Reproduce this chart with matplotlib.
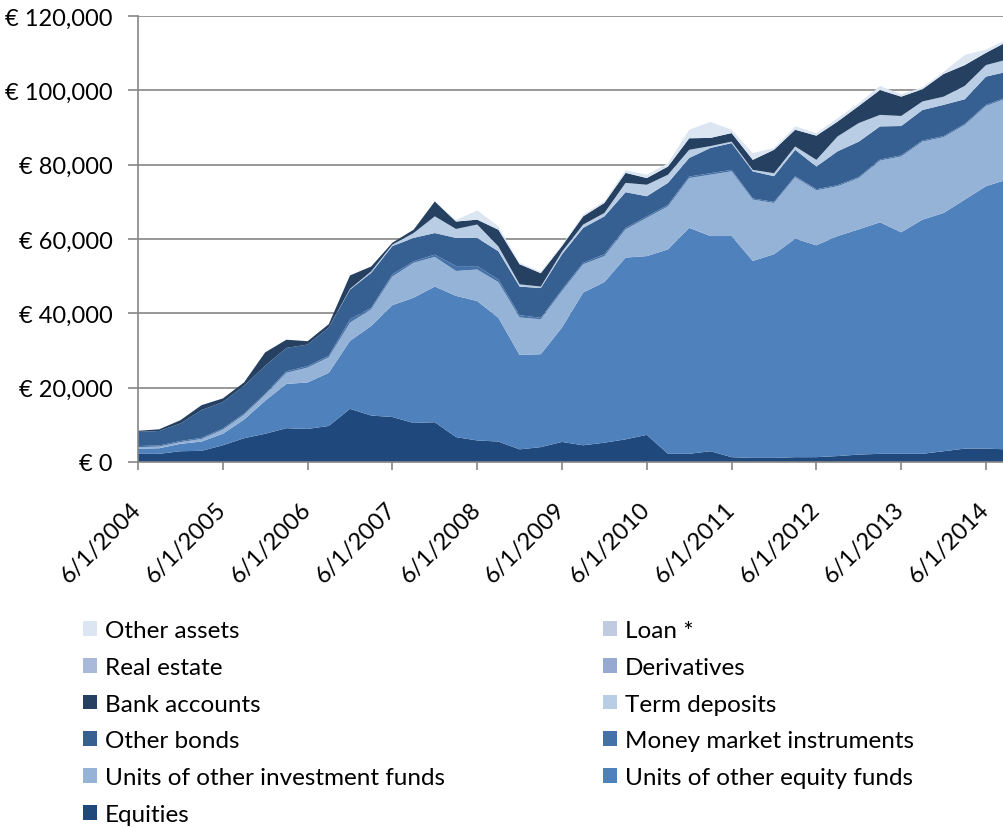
import matplotlib.pyplot as plt
from matplotlib.patches import Patch
from matplotlib.ticker import FuncFormatter

# quarterly values (EUR), first point is 6/1/2004
equities = [2200, 2200, 2900, 3000, 4500, 6400, 7600, 9100, 8900, 9700,
            14300, 12500, 12100, 10500, 10700, 6700, 5800, 5500, 3400, 4000,
            5400, 4500, 5200, 6100, 7300, 2200, 2200, 2900, 1300, 1100,
            1100, 1300, 1300, 1600, 2000, 2200, 2200, 2200, 2900, 3600,
            3600, 3400]
equity_funds = [1400, 1500, 2000, 2500, 3100, 5000, 8900, 11900, 12500, 14300,
                18300, 24100, 30100, 33700, 36500, 38000, 37500, 33300, 25400, 25000,
                30800, 41100, 43200, 48900, 48100, 55000, 60800, 57900, 59500, 53000,
                54800, 58800, 57000, 59200, 60600, 62300, 59600, 63000, 64100, 67000,
                70600, 72600]
invest_funds = [400, 450, 450, 700, 1100, 1300, 1600, 3000, 4000, 4200,
                4900, 4500, 7700, 9400, 8000, 6700, 8500, 9600, 10100, 9400,
                9800, 7600, 7000, 7600, 10300, 11600, 13400, 16500, 17400, 16500,
                13800, 16500, 14800, 13400, 13800, 16600, 20400, 21000, 20400, 20100,
                21600, 21900]
money_market = [300, 300, 300, 300, 300, 300, 300, 400, 400, 400,
                900, 400, 600, 400, 600, 1300, 900, 700, 600, 400,
                400, 400, 500, 400, 400, 400, 400, 400, 400, 300,
                300, 300, 300, 300, 300, 300, 300, 300, 300, 300,
                300, 300]
other_bonds = [3800, 3900, 4700, 7500, 7100, 7500, 7500, 6300, 5800, 7600,
               8000, 9400, 7600, 6300, 5800, 7600, 7600, 7600, 7700, 8000,
               9500, 9400, 10200, 9600, 5400, 5900, 5000, 6800, 7200, 7300,
               6900, 7100, 6100, 9100, 9500, 8900, 7900, 8200, 8400, 6600,
               7600, 6800]
term_deposits = [0, 0, 0, 0, 0, 0, 0, 0, 0, 0,
                 200, 400, 400, 1300, 4500, 2400, 3600, 1300, 600, 400,
                 700, 900, 900, 2500, 3100, 2200, 2200, 500, 400, 400,
                 800, 900, 1800, 4000, 5000, 3100, 2700, 2300, 2200, 3600,
                 3100, 3300]
bank_accounts = [300, 450, 900, 1300, 1000, 900, 3600, 2200, 900, 900,
                 3600, 1300, 500, 900, 4000, 2000, 1300, 4500, 5400, 3600,
                 1500, 2200, 2700, 2700, 1800, 2200, 3100, 2200, 2300, 2700,
                 6300, 4500, 6500, 4000, 4600, 6700, 5200, 3300, 6100, 5600,
                 3300, 4800]
derivatives = [0] * 42
real_estate = [0] * 42
loan = [0] * 42
other_assets = [0, 0, 0, 0, 0, 0, 0, 0, 0, 0,
                0, 0, 0, 0, 0, 400, 2500, 900, 400, 400,
                300, 500, 500, 700, 900, 900, 2300, 4300, 900, 1800,
                500, 900, 700, 900, 700, 1100, 600, 500, 600, 2700,
                900, 600]

series = [equities, equity_funds, invest_funds, money_market, other_bonds,
          term_deposits, bank_accounts, derivatives, real_estate, loan, other_assets]
names = ["Equities", "Units of other equity funds", "Units of other investment funds",
         "Money market instruments", "Other bonds", "Term deposits", "Bank accounts",
         "Derivatives", "Real estate", "Loan *", "Other assets"]
colors = ["#1F497D", "#4F81BD", "#95B3D7", "#4472A8", "#376092", "#B9CDE5",
          "#254061", "#95A9D1", "#A9B9D9", "#C0CBE2", "#DCE6F2"]
tick_labels = ["6/1/%d" % y for y in range(2004, 2015)]

plt.rcParams["font.family"] = ["Lato", "DejaVu Sans"]

fig = plt.figure(figsize=(10.04, 8.29), dpi=100)
ax = fig.add_axes([138 / 1004, (829 - 463) / 829, 1 - 138 / 1004, (463 - 17) / 829])

x = list(range(len(equities)))
ax.stackplot(x, *series, colors=colors, linewidth=0)

ax.set_xlim(0, (1004 - 138) / 21.2)
ax.set_ylim(0, 120000)
ax.set_yticks(range(0, 120001, 20000))
ax.yaxis.set_major_formatter(FuncFormatter(lambda v, p: "€ {:,.0f}".format(v)))
ax.set_xticks(range(0, 41, 4))
ax.set_xticklabels(tick_labels, rotation=45, ha="right", va="center",
                   rotation_mode="anchor")

ax.grid(axis="y", color="#868686", linewidth=1.2)
ax.set_axisbelow(True)
for s in ["top", "right"]:
    ax.spines[s].set_visible(False)
for s in ["left", "bottom"]:
    ax.spines[s].set_color("#868686")
    ax.spines[s].set_linewidth(1.2)
ax.tick_params(axis="y", length=7, width=1.2, color="#868686", pad=11, labelsize=17)
ax.tick_params(axis="x", length=6, width=1.2, color="#868686", pad=25, labelsize=17)

# legend, two columns read row by row
handles = {n: Patch(facecolor=c, edgecolor="none") for n, c in zip(names, colors)}
left_col = ["Other assets", "Real estate", "Bank accounts", "Other bonds",
            "Units of other investment funds", "Equities"]
right_col = ["Loan *", "Derivatives", "Term deposits", "Money market instruments",
             "Units of other equity funds"]
for col, xpos in [(left_col, 83 / 1004), (right_col, 603 / 1004)]:
    fig.legend([handles[n] for n in col], col, loc="upper left",
               bbox_to_anchor=(xpos, (829 - 621) / 829), frameon=False,
               fontsize=17.5, handlelength=0.57, handleheight=0.57,
               handletextpad=0.33, labelspacing=0.65, borderaxespad=0,
               borderpad=0)

fig.savefig("out.png", dpi=100)
